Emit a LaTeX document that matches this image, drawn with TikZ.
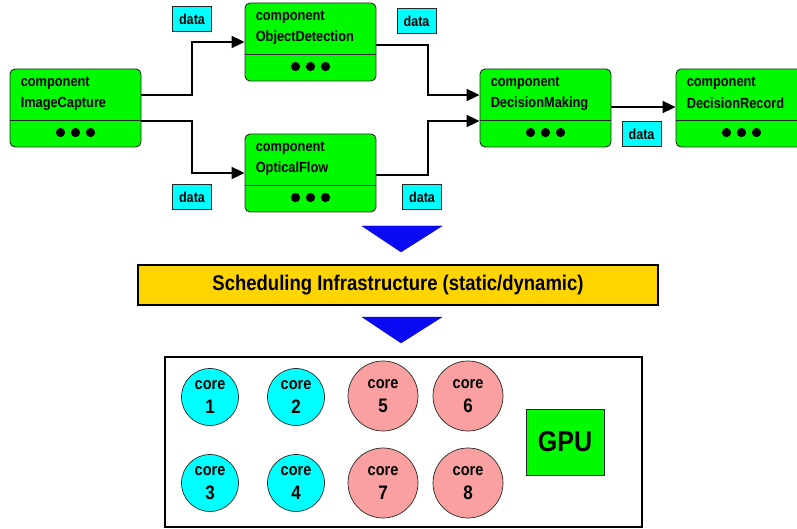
\documentclass[tikz,border=0pt]{standalone}
\usepackage{fontspec}
\setmainfont{Liberation Sans}
\usetikzlibrary{arrows.meta,calc}
\definecolor{cgreen}{RGB}{0,250,0}
\definecolor{ccyan}{RGB}{0,255,255}
\definecolor{cpink}{RGB}{250,160,160}
\definecolor{cgold}{RGB}{255,213,0}
\definecolor{cblue}{RGB}{10,10,245}
\definecolor{cedge}{RGB}{40,40,40}
\newcommand\vs[1]{\scalebox{1}[1.15]{#1}}
\tikzset{
  comp/.style={draw=cedge, line width=0.9pt, fill=cgreen, rounded corners=5pt, minimum width=131pt, minimum height=78pt, inner sep=0pt},
  ctext/.style={font=\fontsize{12.8}{14}\selectfont\bfseries, inner sep=0pt, anchor=west},
  databox/.style={draw=cedge, line width=0.8pt, fill=ccyan, minimum width=39pt, minimum height=25pt, inner sep=0pt, font=\fontsize{12.6}{14}\selectfont\bfseries},
  conn/.style={line width=2pt, -{Triangle[length=13pt,width=12pt]}},
  corecyan/.style={circle, draw=cedge, line width=0.7pt, fill=ccyan, minimum size=57pt, inner sep=0pt, align=center, font=\fontsize{14.5}{24}\selectfont\bfseries},
  corepink/.style={corecyan, fill=cpink, minimum size=70pt},
  tri/.style={fill=cblue, draw=cblue!70!black, line width=0.4pt},
}
\newcommand\comp[4]{%
  \node[comp] (#1) at (#2,#3+39) {};
  \node[ctext] (#1-a) at ([xshift=11pt,yshift=-15pt]#1.north west) {\vs{component}};
  \node[ctext] (#1-b) at ([xshift=11pt,yshift=-35pt]#1.north west) {\vs{#4}};
  \draw[cedge, line width=0.9pt] ([yshift=-52pt]#1.north west) -- ([yshift=-52pt]#1.north east);
  \foreach \dx in {-15,0,15}
    \fill ([xshift=\dx pt,yshift=-64pt]#1.north) circle (4.6pt);
}
\newcommand\core[1]{\vs{core}\\{\fontsize{17}{18}\selectfont\vs{#1}}}
\begin{document}
\begin{tikzpicture}[x=1pt,y=-1pt]
\useasboundingbox (0,0) rectangle (797,529);
\comp{ic}{75.5}{69}{ImageCapture}
\comp{od}{310.5}{3}{ObjectDetection}
\comp{of}{310.5}{134}{OpticalFlow}
\comp{dm}{545.5}{69}{DecisionMaking}
\comp{dr}{741.5}{69}{DecisionRecord}

\node[databox] (d1) at (192,19) {\vs{data}};
\node[databox] (d2) at (416.5,21) {\vs{data}};
\node[databox] (d3) at (192,197) {\vs{data}};
\node[databox] (d4) at (422,197) {\vs{data}};
\node[databox] (d5) at (641.5,134) {\vs{data}};

\coordinate (j1) at (192,0);
\coordinate (j2) at (428,0);
\draw[conn] ([yshift=13pt]ic.east) -- ([yshift=13pt]ic.east -| j1) |- (od.west);
\draw[conn] ([yshift=-13pt]ic.east) -- ([yshift=-13pt]ic.east -| j1) |- (of.west);
\draw[conn] ([yshift=-3pt]od.east) -- ([yshift=-3pt]od.east -| j2) |- ([yshift=13pt]dm.west);
\draw[conn] ([yshift=-2pt]of.east) -- ([yshift=-2pt]of.east -| j2) |- ([yshift=-13pt]dm.west);
\draw[conn] ([yshift=1pt]dm.east) -- ([yshift=1pt]dr.west);

\draw[tri] (362,226) -- (442,226) -- (401,252) -- cycle;
\node[draw=black, line width=1.6pt, fill=cgold, minimum width=520pt, minimum height=40pt, inner sep=0pt, font=\fontsize{18.5}{20}\selectfont\bfseries] (sched) at (398,285) {\vs{Scheduling Infrastructure (static/dynamic)}};
\draw[tri] (362,317) -- (442,317) -- (401,343) -- cycle;

\node[draw=black, line width=1.2pt, minimum width=477pt, minimum height=170pt, inner sep=0pt] (hw) at (403.5,442) {};
\node[corecyan] (c1) at (210,397) {\core{1}};
\node[corecyan] (c2) at (296,397) {\core{2}};
\node[corecyan] (c3) at (210,483) {\core{3}};
\node[corecyan] (c4) at (296,483) {\core{4}};
\node[corepink] (c5) at (383,396) {\core{5}};
\node[corepink] (c6) at (468,396) {\core{6}};
\node[corepink] (c7) at (383,483) {\core{7}};
\node[corepink] (c8) at (468,483) {\core{8}};
\node[draw=cedge, line width=0.9pt, fill=cgreen, minimum width=78pt, minimum height=66pt, inner sep=0pt, font=\fontsize{25}{27}\selectfont\bfseries] (gpu) at (565,442) {\vs{GPU}};
\end{tikzpicture}
\end{document}
